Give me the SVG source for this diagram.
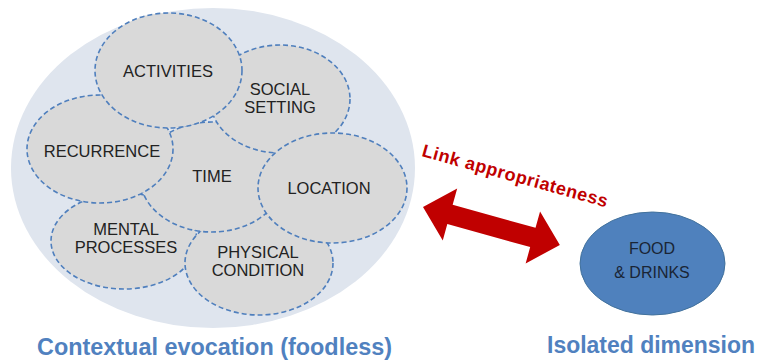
<svg xmlns="http://www.w3.org/2000/svg" width="760" height="361" viewBox="0 0 760 361">
  <style>
    .sub { fill: #d9d9d9; stroke: #4f7fbd; stroke-width: 1.6; stroke-dasharray: 5 3; }
    .lbl { font-family: "Liberation Sans", Arial, sans-serif; font-size: 16.5px; fill: #222222; text-anchor: middle; }
    .cap { font-family: "Liberation Sans", Arial, sans-serif; font-size: 23px; font-weight: bold; fill: #5081bf; }
  </style>
  <rect width="760" height="361" fill="#ffffff"/>
  <g id="context">
    <ellipse cx="213" cy="168" rx="202" ry="160" fill="#dfe5ee"/>
  </g>
  <g id="mental">
    <ellipse class="sub" cx="124" cy="241" rx="73" ry="48"/>
    <text class="lbl" x="126" y="235">MENTAL</text>
    <text class="lbl" x="126" y="253">PROCESSES</text>
  </g>
  <g id="physical">
    <ellipse class="sub" cx="259" cy="263" rx="74" ry="52"/>
    <text class="lbl" x="258" y="258">PHYSICAL</text>
    <text class="lbl" x="258" y="276">CONDITION</text>
  </g>
  <g id="time">
    <ellipse class="sub" cx="212" cy="177" rx="72" ry="55"/>
    <text class="lbl" x="212" y="182">TIME</text>
  </g>
  <g id="social">
    <ellipse class="sub" cx="280" cy="99" rx="70" ry="54"/>
    <text class="lbl" x="280" y="95">SOCIAL</text>
    <text class="lbl" x="280" y="113">SETTING</text>
  </g>
  <g id="recurrence">
    <ellipse class="sub" cx="100" cy="149" rx="73" ry="54"/>
    <text class="lbl" x="102" y="157">RECURRENCE</text>
  </g>
  <g id="activities">
    <ellipse class="sub" cx="168.5" cy="70.5" rx="73.5" ry="57.5"/>
    <text class="lbl" x="168" y="77">ACTIVITIES</text>
  </g>
  <g id="location">
    <ellipse class="sub" cx="332.5" cy="188" rx="74.5" ry="55"/>
    <text class="lbl" x="329" y="194">LOCATION</text>
  </g>
  <g id="food">
    <ellipse cx="652.5" cy="263.5" rx="72.5" ry="51.5" fill="#4f81bd" stroke="#41719c" stroke-width="1"/>
    <text class="lbl" x="652" y="254" style="font-size:16px;fill:#1a2535">FOOD</text>
    <text class="lbl" x="652" y="278" style="font-size:16px;fill:#1a2535">&amp; DRINKS</text>
  </g>
  <g id="connectors">
    <polygon transform="translate(423,207) rotate(15.5)" fill="#c00000"
      points="0,0 28,-27 28,-10 114,-10 114,-27 142,0 114,27 114,10 28,10 28,27"/>
    <text transform="translate(421,156) rotate(15.5)" font-family="'Liberation Sans', Arial, sans-serif" font-size="18" font-weight="bold" fill="#c00000" textLength="192" lengthAdjust="spacing">Link appropriateness</text>
  </g>
  <g id="captions">
    <text class="cap" x="37" y="355" textLength="355" lengthAdjust="spacingAndGlyphs">Contextual evocation (foodless)</text>
    <text class="cap" x="547" y="353" textLength="208" lengthAdjust="spacingAndGlyphs">Isolated dimension</text>
  </g>
</svg>
